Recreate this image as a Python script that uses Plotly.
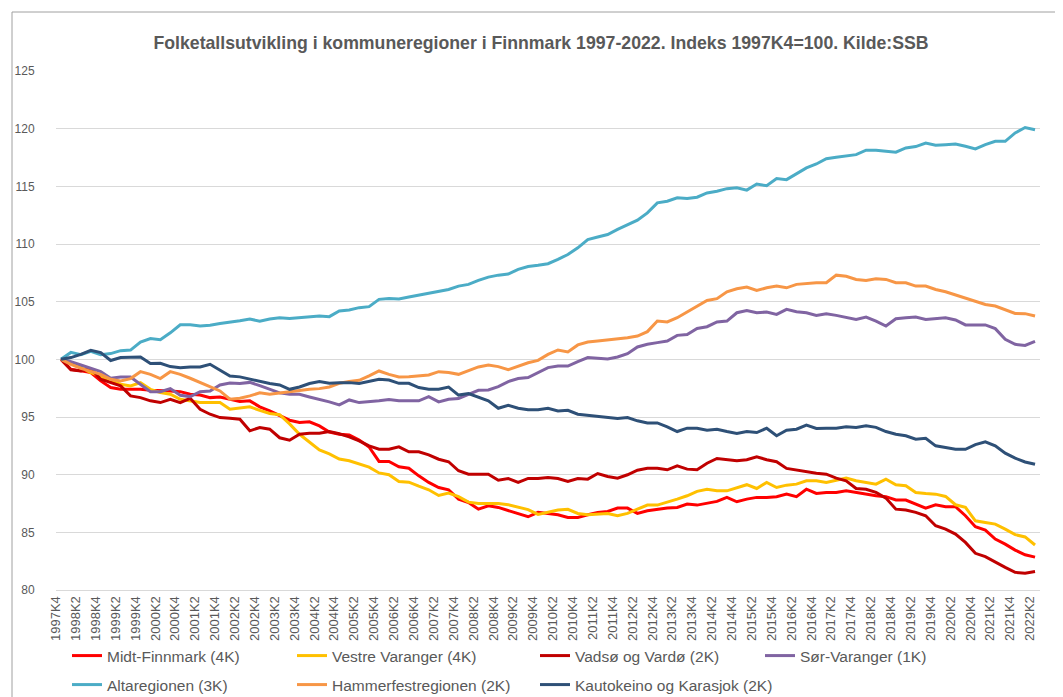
import plotly.graph_objects as go

# Categories: quarters 1997K4 .. 2022K2
all_quarters = [f"{y}K{q}" for y in range(1997, 2023) for q in range(1, 5)]
quarters = all_quarters[all_quarters.index("1997K4"):all_quarters.index("2022K2") + 1]
tick_labels = quarters[::2]

midt_finnmark = [
    100, 99.14, 99.0, 98.85, 98.13, 97.55, 97.4, 97.4, 97.4, 97.32, 97.32, 97.26, 97.2, 96.97, 96.91, 96.68,
    96.74, 96.54, 96.34, 96.4, 95.88, 95.53,
    95.1, 94.72, 94.52, 94.58, 94.23, 93.7, 93.5, 93.45, 93.0, 92.4, 91.15, 91.14, 90.69, 90.56, 89.9, 89.33,
    88.89, 88.69, 87.88, 87.59, 87.01, 87.3, 87.16, 86.87, 86.58, 86.35,
    86.73, 86.64, 86.52, 86.29, 86.29, 86.52, 86.73, 86.81, 87.1, 87.1, 86.64, 86.87, 87.01, 87.1, 87.16, 87.45,
    87.36, 87.5, 87.68, 88.03, 87.65, 87.88, 88.03, 88.03,
    88.09, 88.32, 88.09, 88.74, 88.37, 88.46, 88.46, 88.6, 88.46, 88.26, 88.17, 88.09, 87.8, 87.8, 87.45, 87.1,
    87.39, 87.22, 87.22, 86.44, 85.49, 85.2, 84.42, 83.98, 83.46, 83.05, 82.85,
]

vestre_varanger = [
    100, 99.71, 99.28, 98.85, 98.56, 98.13, 97.84, 97.7, 97.98, 97.4, 97.12, 96.97, 96.54, 96.4, 96.25, 96.25,
    96.25, 95.67, 95.76, 95.88, 95.58, 95.3,
    95.2, 94.4, 93.5, 92.8, 92.15, 91.8, 91.35, 91.2, 90.9, 90.65, 90.15, 90.0, 89.41, 89.35, 89.0, 88.69,
    88.2, 88.4, 88.1, 87.62, 87.5, 87.5, 87.5, 87.4, 87.2, 86.97,
    86.55, 86.75, 86.93, 87.0, 86.64, 86.52, 86.58, 86.64, 86.44, 86.64, 87.01, 87.36, 87.36, 87.59, 87.88, 88.17,
    88.55, 88.74, 88.6, 88.6, 88.89, 89.13, 88.8, 89.33,
    88.89, 89.09, 89.18, 89.47, 89.47, 89.33, 89.52, 89.7, 89.47, 89.33, 89.18, 89.61, 89.13, 89.04, 88.46, 88.37,
    88.31, 88.11, 87.39, 87.16, 86.0, 85.86, 85.71, 85.28, 84.8, 84.6, 83.9,
]

vadso_vardo = [
    100, 99.1, 99.0, 99.2, 98.27, 97.98, 97.7, 96.83, 96.68, 96.4, 96.25, 96.54, 96.25, 96.62, 95.67, 95.24,
    94.95, 94.89, 94.81, 93.8, 94.09, 93.94,
    93.2, 92.99, 93.51, 93.6, 93.6, 93.75, 93.55, 93.28, 92.93, 92.5, 92.2, 92.2, 92.41, 91.98, 91.98, 91.72,
    91.34, 91.12, 90.34, 90.04, 90.04, 90.04, 89.52, 89.67, 89.33, 89.67,
    89.67, 89.76, 89.67, 89.41, 89.67, 89.61, 90.1, 89.84, 89.7, 89.99, 90.39, 90.56, 90.56, 90.42, 90.77, 90.48,
    90.42, 90.99, 91.4, 91.29, 91.2, 91.29, 91.55, 91.3,
    91.12, 90.54, 90.39, 90.28, 90.13, 90.04, 89.7, 89.47, 88.8, 88.74, 88.46, 87.97, 87.01, 86.93, 86.73, 86.44,
    85.57, 85.28, 84.85, 84.13, 83.18, 82.89, 82.4, 81.96, 81.53, 81.45, 81.6,
]

sor_varanger = [
    100, 99.8, 99.51, 99.22, 98.93, 98.36, 98.47, 98.47, 97.84, 97.2, 97.2, 97.46, 96.88, 96.77, 97.2, 97.26,
    97.78, 97.95, 97.9, 98.0, 97.72, 97.4, 97.09, 96.97, 96.97,
    96.74, 96.54, 96.31, 96.05, 96.48, 96.25, 96.31, 96.4, 96.51, 96.4, 96.4, 96.4, 96.77, 96.31, 96.54, 96.6,
    96.97, 97.32, 97.35, 97.64, 98.07, 98.33, 98.42,
    98.85, 99.28, 99.42, 99.42, 99.8, 100.15, 100.09, 100.03, 100.2, 100.49, 101.07, 101.3, 101.45, 101.59,
    102.08, 102.16, 102.68, 102.83, 103.24, 103.32, 104.04, 104.24, 104.04, 104.1,
    103.9, 104.33, 104.13, 104.04, 103.81, 103.96, 103.81, 103.61, 103.46, 103.67, 103.32, 102.89, 103.52, 103.61,
    103.67, 103.46, 103.52, 103.61, 103.41, 102.98, 102.98, 102.98, 102.66, 101.73, 101.3, 101.2, 101.55,
]

altaregionen = [
    100, 100.6, 100.4, 100.7, 100.4, 100.5, 100.75, 100.8, 101.5, 101.8, 101.7, 102.3, 103.0, 103.0, 102.9,
    102.95, 103.1, 103.2, 103.35, 103.5, 103.3, 103.5, 103.6, 103.55, 103.6,
    103.67, 103.75, 103.7, 104.19, 104.28, 104.48, 104.57, 105.2, 105.28, 105.23, 105.4, 105.57, 105.77, 105.9,
    106.06, 106.35, 106.5, 106.84, 107.13, 107.3, 107.4, 107.8, 108.05, 108.15,
    108.29, 108.66, 109.09, 109.67, 110.39, 110.6, 110.82, 111.26, 111.69, 112.07, 112.7, 113.57, 113.71, 114.0,
    113.94, 114.06, 114.43, 114.58, 114.8, 114.87, 114.67, 115.2, 115.05,
    115.67, 115.58, 116.08, 116.6, 116.94, 117.4, 117.52, 117.64, 117.75, 118.13, 118.13, 118.04, 117.96, 118.33,
    118.45, 118.76, 118.56, 118.61, 118.67, 118.47, 118.24, 118.61, 118.9, 118.9, 119.63, 120.1, 119.9,
]

hammerfestregionen = [
    100, 99.57, 99.22, 98.93, 98.7, 98.27, 98.13, 98.33, 98.93, 98.7, 98.33, 98.93, 98.7, 98.36, 97.98, 97.6,
    97.26, 96.54, 96.62, 96.83, 97.1, 96.97, 97.1, 97.2, 97.3,
    97.4, 97.46, 97.6, 97.92, 98.07, 98.18, 98.56, 98.99, 98.7, 98.47, 98.5, 98.56, 98.65, 98.93, 98.85, 98.7,
    99.05, 99.34, 99.51, 99.37, 99.1, 99.4, 99.7,
    99.91, 100.43, 100.81, 100.64, 101.25, 101.5, 101.59, 101.68, 101.79, 101.88, 102.02, 102.4, 103.32, 103.24,
    103.61, 104.1, 104.62, 105.11, 105.26, 105.86, 106.12, 106.27, 105.97, 106.2,
    106.35, 106.2, 106.5, 106.58, 106.64, 106.64, 107.3, 107.2, 106.93, 106.84, 106.99, 106.93, 106.64, 106.64,
    106.35, 106.35, 106.06, 105.86, 105.57, 105.28, 105.05, 104.75, 104.62, 104.33, 103.98, 103.96, 103.75,
]

kautokeino_karasjok = [
    100, 100.15, 100.43, 100.78, 100.58, 99.9, 100.15, 100.15, 100.2, 99.63, 99.66, 99.37, 99.28, 99.33, 99.33,
    99.57, 99.05, 98.56, 98.48, 98.27, 98.07, 97.9, 97.78, 97.4, 97.6,
    97.9, 98.07, 97.92, 97.98, 97.98, 97.9, 98.07, 98.27, 98.2, 97.92, 97.92, 97.55, 97.4, 97.4, 97.6, 96.9,
    97.03, 96.74, 96.4, 95.76, 96.02, 95.76, 95.62,
    95.62, 95.76, 95.53, 95.58, 95.24, 95.15, 95.07, 94.95, 94.87, 94.95, 94.67, 94.49, 94.49, 94.15, 93.74,
    94.03, 94.03, 93.85, 93.94, 93.74, 93.57, 93.74, 93.65, 94.03,
    93.37, 93.85, 93.94, 94.29, 94.0, 94.03, 94.03, 94.15, 94.1, 94.23, 94.1, 93.74, 93.5, 93.37, 93.07, 93.16,
    92.5, 92.35, 92.2, 92.2, 92.6, 92.85, 92.5, 91.86, 91.43, 91.1, 90.9,
]

series_names = [
    "Midt-Finnmark (4K)", "Vestre Varanger (4K)", "Vadsø og Vardø (2K)", "Sør-Varanger (1K)",
    "Altaregionen (3K)", "Hammerfestregionen (2K)", "Kautokeino og Karasjok (2K)",
]
series_values = [midt_finnmark, vestre_varanger, vadso_vardo, sor_varanger,
                 altaregionen, hammerfestregionen, kautokeino_karasjok]
series_colors = ["#FF0000", "#FFC000", "#C00000", "#8064A2", "#4BACC6", "#F79646", "#2E5077"]

# legend placement (pixel anchor of each legend entry)
legend_px = [(59, 648), (284, 648), (527, 648), (752, 648), (59, 677), (284, 677), (527, 677)]

W, H = 1063, 697
L, R, T, B = 48, 1032, 63, 582
pw, ph = R - L, B - T

FONT = "Liberation Sans, Arial, sans-serif"
GREY = "#595959"

fig = go.Figure()
layout_legends = {}
for k, (name, vals, col) in enumerate(zip(series_names, series_values, series_colors)):
    lid = "legend" if k == 0 else f"legend{k + 1}"
    fig.add_trace(go.Scatter(
        x=quarters, y=vals, name=name, mode="lines",
        line=dict(color=col, width=3), legend=lid,
    ))
    lx, ly = legend_px[k]
    layout_legends[lid] = dict(
        x=(lx - L) / pw, y=(B - ly) / ph, xanchor="left", yanchor="middle",
        xref="paper", yref="paper",
        orientation="h", bgcolor="rgba(0,0,0,0)", borderwidth=0,
        font=dict(family=FONT, size=15.5, color=GREY),
    )

fig.update_layout(
    width=W, height=H, autosize=False,
    template="none",
    margin=dict(l=L, r=W - R, t=T, b=H - B, autoexpand=False, pad=0),
    paper_bgcolor="white", plot_bgcolor="white",
    showlegend=True,
    title=dict(
        text="Folketallsutvikling i kommuneregioner i Finnmark 1997-2022. Indeks 1997K4=100. Kilde:SSB",
        x=533 / W, xanchor="center", xref="container",
        y=1 - 35 / H, yanchor="middle", yref="container",
        font=dict(family=FONT, size=17.7, color=GREY, weight="bold"),
    ),
    xaxis=dict(
        type="category", range=[-0.5, len(quarters) - 0.5],
        tickmode="array", tickvals=tick_labels, ticktext=tick_labels,
        tickangle=-90, tickfont=dict(family=FONT, size=13, color=GREY),
        showgrid=False, zeroline=False, showline=True, linecolor="#D9D9D9", linewidth=1,
        ticks="", ticklabelshift=-5, automargin=False,
    ),
    yaxis=dict(
        range=[80, 125], tick0=80, dtick=5,
        tickfont=dict(family=FONT, size=12, color=GREY),
        showgrid=True, gridcolor="#D9D9D9", gridwidth=1,
        zeroline=False, showline=False,
        ticks="outside", ticklen=18, tickcolor="rgba(0,0,0,0)", automargin=False,
    ),
    **layout_legends,
)

# chart border (top/left edges visible in the reference)
fig.add_shape(
    type="rect", xref="paper", yref="paper",
    x0=(4 - L) / pw, x1=(W + 20 - L) / pw, y0=(B - (H + 20)) / ph, y1=(B - 4) / ph,
    line=dict(color="#A0A0A0", width=1), fillcolor="rgba(0,0,0,0)", layer="below",
)

fig.write_html("out.html")
